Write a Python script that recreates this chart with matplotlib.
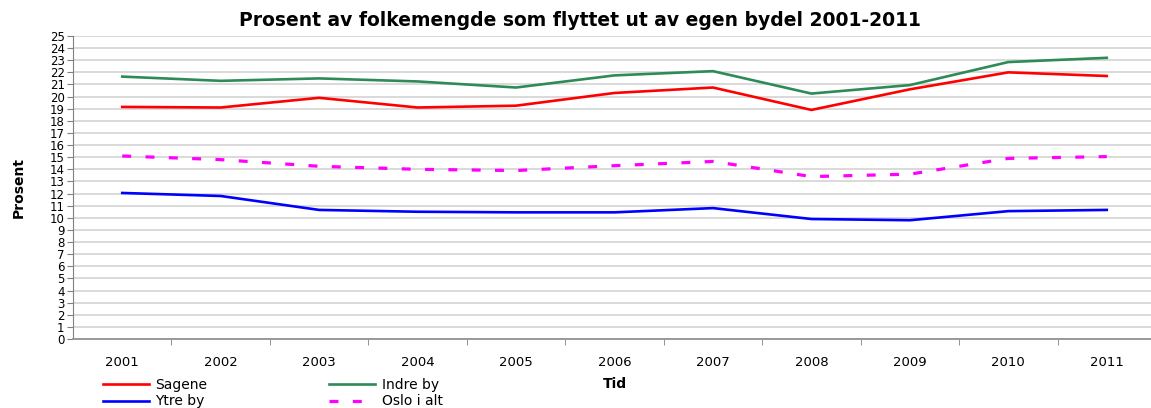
import matplotlib.pyplot as plt
import numpy as np

plt.rcParams['font.family'] = ['DejaVu Sans']

years = ['2001', '2002', '2003', '2004', '2005', '2006',
         '2007', '2008', '2009', '2010', '2011']
sagene = [19.15, 19.1, 19.9, 19.1, 19.25, 20.3, 20.75, 18.9, 20.6, 22.0, 21.7]
indre_by = [21.65, 21.3, 21.5, 21.25, 20.75, 21.75, 22.1, 20.25, 20.95, 22.85, 23.2]
ytre_by = [12.05, 11.8, 10.65, 10.5, 10.45, 10.45, 10.8, 9.9, 9.8, 10.55, 10.65]
oslo = [15.1, 14.8, 14.25, 14.0, 13.9, 14.3, 14.65, 13.4, 13.6, 14.9, 15.05]

fig = plt.figure(figsize=(11.51, 4.08), dpi=100)
ax = fig.add_axes([73 / 1151, 69 / 408, 1083 / 1151, 303 / 408])

x = np.arange(len(years))
ax.plot(x, sagene, color='#ff0000', lw=1.9, label='Sagene')
ax.plot(x, ytre_by, color='#0000ff', lw=1.9, label='Ytre by')
ax.plot(x, indre_by, color='#2e8b57', lw=1.9, label='Indre by')
ax.plot(x, oslo, color='#ff00ff', lw=2.3, ls=(0, (2.8, 4.5)), label='Oslo i alt')

ax.set_xlim(-0.5, len(years) - 0.5)
ax.set_ylim(0, 25)
ax.set_yticks(range(0, 26))
ax.set_xticks(x)
ax.set_xticklabels(years, fontsize=9.5)
ax.set_xticks(np.arange(0.5, len(years) - 0.5), minor=True)
ax.tick_params(axis='x', which='major', length=0, pad=12)
ax.tick_params(axis='x', which='minor', length=4, color='#808080', direction='out')
ax.tick_params(axis='y', length=4, color='#808080', labelsize=8.5, pad=2)
ax.yaxis.grid(True, color='#d0d0d0', lw=1.1)
ax.set_axisbelow(True)

for s in ['top', 'right']:
    ax.spines[s].set_visible(False)
ax.spines['left'].set_color('#808080')
ax.spines['bottom'].set_color('#999999')
ax.spines['bottom'].set_linewidth(1.4)

ax.set_ylabel('Prosent', fontsize=10, fontweight='bold', labelpad=17)
ax.set_xlabel('Tid', fontsize=10, fontweight='bold', labelpad=6)
fig.text(0.504, 0.95, 'Prosent av folkemengde som flyttet ut av egen bydel 2001-2011',
         ha='center', va='center', fontsize=13.5, fontweight='bold')

fig.legend(loc='upper left', bbox_to_anchor=(0.0848, 0.088), ncol=2, frameon=False,
           fontsize=10, handlelength=3.3, columnspacing=8.8, labelspacing=0.2,
           borderaxespad=0, handletextpad=0.45)

fig.savefig('out.png', dpi=100)
